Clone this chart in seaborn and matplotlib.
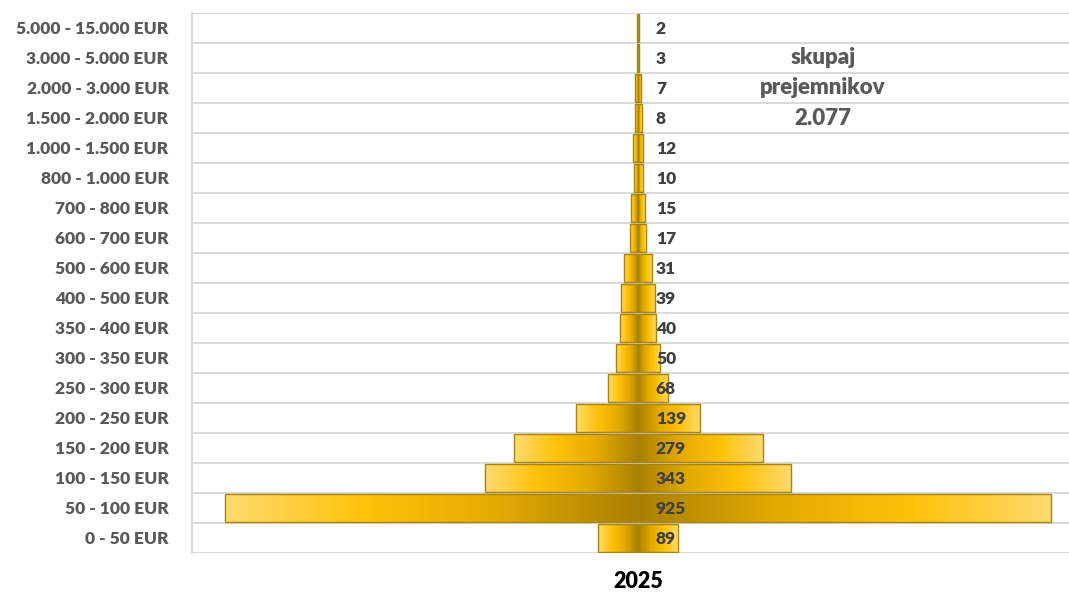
import numpy as np
import pandas as pd
import seaborn as sns
import matplotlib.pyplot as plt
from matplotlib.colors import LinearSegmentedColormap

categories = [
    "5.000 - 15.000 EUR", "3.000 - 5.000 EUR", "2.000 - 3.000 EUR",
    "1.500 - 2.000 EUR", "1.000 - 1.500 EUR", "800 - 1.000 EUR",
    "700 - 800 EUR", "600 - 700 EUR", "500 - 600 EUR", "400 - 500 EUR",
    "350 - 400 EUR", "300 - 350 EUR", "250 - 300 EUR", "200 - 250 EUR",
    "150 - 200 EUR", "100 - 150 EUR", "50 - 100 EUR", "0 - 50 EUR",
]
recipients = [2, 3, 7, 8, 12, 10, 15, 17, 31, 39, 40, 50, 68, 139, 279, 343, 925, 89]
total_lines = ["skupaj", "prejemnikov", "2.077"]
year = "2025"

df = pd.DataFrame({"razred": categories, "prejemniki": recipients})
df["levo"] = -df["prejemniki"] / 2
df["desno"] = df["prejemniki"] / 2

sns.set_theme(style="white")
plt.rcParams["font.family"] = ["Lato", "DejaVu Sans"]

fig = plt.figure(figsize=(10.69, 5.93), dpi=100)
ax = fig.add_axes([192 / 1069, 40 / 593, 1 - 192 / 1069, 540 / 593])

edge = "#A8830C"
for col in ["levo", "desno"]:
    sns.barplot(data=df, x=col, y="razred", orient="h", color="#FFC000",
                width=0.94, errorbar=None, edgecolor=edge, linewidth=1, ax=ax)

# gold gradient: light at the outer end, dark at the centre
gold = LinearSegmentedColormap.from_list(
    "gold", ["#FFDB6E", "#FFC20A", "#E3AA00", "#A98000"])
xlim = (-500, 483)
ylim = (len(categories) - 0.5, -0.5)
grad = np.linspace(0, 1, 256).reshape(1, -1)
for p in list(ax.patches):
    x0, y0, w, h = p.get_x(), p.get_y(), p.get_width(), p.get_height()
    if w == 0:
        continue
    xa, xb = min(x0, x0 + w), max(x0, x0 + w)
    g = grad if xa < 0 else grad[:, ::-1]
    im = ax.imshow(g, cmap=gold, aspect="auto", extent=(xa, xb, y0 + h, y0),
                   zorder=2, interpolation="bilinear")
    im.set_clip_path(p)
    p.set_facecolor("none")
    p.set_zorder(3)

ax.set_xlim(xlim)
ax.set_ylim(ylim)

# values next to the centre line
for i, v in enumerate(recipients):
    ax.text(20, i + 0.03, str(v), ha="left", va="center", fontsize=12.5,
            fontweight="heavy", color="#404040", zorder=5)

ax.set_yticks(np.arange(-0.5, len(categories)), minor=True)
ax.grid(which="minor", axis="y", color="#D9D9D9", linewidth=1.4)
ax.grid(which="major", visible=False)
ax.set_axisbelow(True)
ax.tick_params(axis="y", which="both", length=0, pad=17)
ax.tick_params(axis="x", which="both", bottom=False, labelbottom=False)
for lbl in ax.get_yticklabels():
    lbl.set_fontweight("heavy")
    lbl.set_fontsize(12.5)
    lbl.set_color("#595959")
ax.set_xlabel("")
ax.set_ylabel("")
for s in ["top", "right", "bottom"]:
    ax.spines[s].set_visible(False)
ax.spines["left"].set_color("#D9D9D9")
ax.spines["left"].set_linewidth(1.4)

for k, line in enumerate(total_lines):
    fig.text(823 / 1069, 1 - (57 + 30.5 * k) / 593, line, ha="center", va="center",
             fontsize=16, fontweight="heavy", color="#595959")

fig.text(638.5 / 1069, 1 - 581 / 593, year, ha="center", va="center",
         fontsize=15.5, fontweight="heavy", color="#000000")

fig.savefig("out.png", dpi=100)
